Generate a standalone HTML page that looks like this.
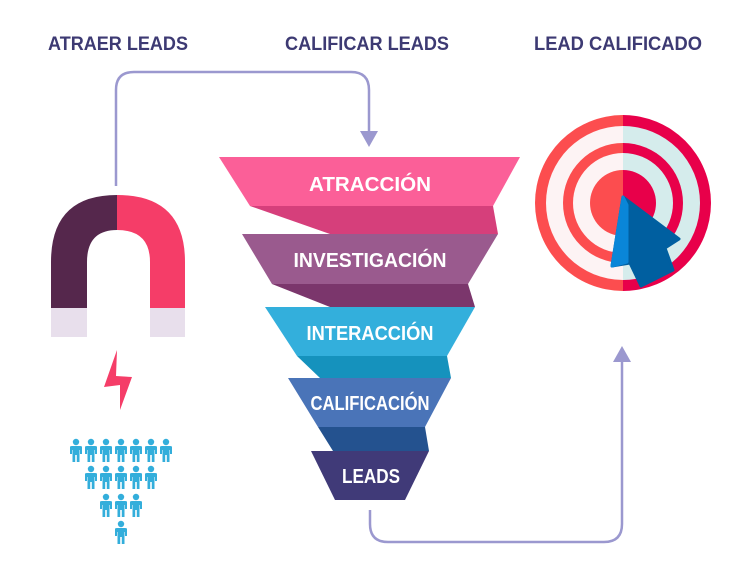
<!DOCTYPE html>
<html><head><meta charset="utf-8"><style>
html,body{margin:0;padding:0;background:#fff}
svg{display:block}
text{font-family:"Liberation Sans",sans-serif;font-weight:bold}
</style></head><body>
<svg width="740" height="578" viewBox="0 0 740 578" xmlns="http://www.w3.org/2000/svg">
<g fill="#3d3a73" font-size="19" text-anchor="middle">
<text x="118" y="50" textLength="140" lengthAdjust="spacingAndGlyphs">ATRAER LEADS</text>
<text x="367" y="50" textLength="164" lengthAdjust="spacingAndGlyphs">CALIFICAR LEADS</text>
<text x="618" y="50" textLength="168" lengthAdjust="spacingAndGlyphs">LEAD CALIFICADO</text>
</g>
<g fill="none" stroke="#9b98cf" stroke-width="2.5">
<path d="M116 186 V90 Q116 72 134 72 H351 Q369 72 369 90 V133"/>
<path d="M370 510 V524 Q370 542 388 542 H604 Q622 542 622 524 V360"/>
</g>
<polygon points="360,131 378,131 369,147" fill="#9b98cf"/>
<polygon points="613,362 631,362 622,346" fill="#9b98cf"/>
<!-- funnel -->
<polygon points="219,157 520,157 493,206 250,206" fill="#fb5f98"/>
<polygon points="250,206 493,206 498,234 330,234" fill="#d63f7b"/>
<polygon points="242,234 498,234 468,284 272,284" fill="#9a5a8e"/>
<polygon points="272,284 468,284 475,307 330,307" fill="#7b366c"/>
<polygon points="265,307 475,307 447,356 297,356" fill="#33afdc"/>
<polygon points="297,356 447,356 451,378 320,378" fill="#1592bd"/>
<polygon points="288,378 451,378 425,427 318,427" fill="#4a74b8"/>
<polygon points="318,427 425,427 429,451 333,451" fill="#24528f"/>
<polygon points="311,451 429,451 405,500 335,500" fill="#403a78"/>
<g fill="#fff" text-anchor="middle" font-size="20">
<text x="370" y="191" textLength="122" lengthAdjust="spacingAndGlyphs">ATRACCIÓN</text>
<text x="370" y="267" textLength="153" lengthAdjust="spacingAndGlyphs">INVESTIGACIÓN</text>
<text x="370" y="340" textLength="127" lengthAdjust="spacingAndGlyphs">INTERACCIÓN</text>
<text x="370" y="410" textLength="119" lengthAdjust="spacingAndGlyphs">CALIFICACIÓN</text>
<text x="371" y="483" textLength="58" lengthAdjust="spacingAndGlyphs">LEADS</text>
</g>
<!-- magnet -->
<path d="M51 308 V262 Q51 195 117 195 V230 Q87 230 87 262 V308 Z" fill="#55274c"/>
<path d="M185 308 V262 Q185 195 117 195 V230 Q150 230 150 262 V308 Z" fill="#f53d68"/>
<rect x="51" y="308" width="36" height="29" fill="#e8dfec"/>
<rect x="150" y="308" width="35" height="29" fill="#e8dfec"/>
<polygon points="117,350 104,387 120,385 120,410 132,377 116,376" fill="#f53d68"/>
<!-- people -->
<defs><g id="p" fill="#33aedb"><circle cx="0" cy="-8" r="3.2"/><path d="M-6 -3 Q-6 -4 -4 -4 H4 Q6 -4 6 -3 V4 H4 V0 H3.5 V12 H0.8 V5 H-0.8 V12 H-3.5 V0 H-4 V4 H-6 Z"/></g></defs>
<g>
<use href="#p" x="76" y="450"/><use href="#p" x="91" y="450"/><use href="#p" x="106" y="450"/><use href="#p" x="121" y="450"/><use href="#p" x="136" y="450"/><use href="#p" x="151" y="450"/><use href="#p" x="166" y="450"/>
<use href="#p" x="91" y="477"/><use href="#p" x="106" y="477"/><use href="#p" x="121" y="477"/><use href="#p" x="136" y="477"/><use href="#p" x="151" y="477"/>
<use href="#p" x="106" y="505"/><use href="#p" x="121" y="505"/><use href="#p" x="136" y="505"/>
<use href="#p" x="121" y="532"/>
</g>
<!-- target -->
<defs><clipPath id="L"><rect x="500" y="100" width="123" height="220"/></clipPath><clipPath id="R"><rect x="623" y="100" width="120" height="220"/></clipPath></defs>
<g clip-path="url(#L)">
<circle cx="623" cy="203" r="88" fill="#fc4d4f"/><circle cx="623" cy="203" r="77" fill="#fdf3f4"/>
<circle cx="623" cy="203" r="60" fill="#fc4d4f"/><circle cx="623" cy="203" r="50" fill="#fdf3f4"/>
<circle cx="623" cy="203" r="33" fill="#fc4d4f"/>
</g>
<g clip-path="url(#R)">
<circle cx="623" cy="203" r="88" fill="#e8004a"/><circle cx="623" cy="203" r="77" fill="#d5ecec"/>
<circle cx="623" cy="203" r="60" fill="#e8004a"/><circle cx="623" cy="203" r="50" fill="#d5ecec"/>
<circle cx="623" cy="203" r="33" fill="#e8004a"/>
</g>
<polygon points="623,197 679,239 665,248 673,270 641,286 630,263 612,266" fill="#005fa0" stroke="#005fa0" stroke-width="3" stroke-linejoin="round"/>
<polygon points="623,197 627,205 627,262 612,266" fill="#0a86d8" stroke="#0a86d8" stroke-width="3" stroke-linejoin="round"/>
</svg>
</body></html>
